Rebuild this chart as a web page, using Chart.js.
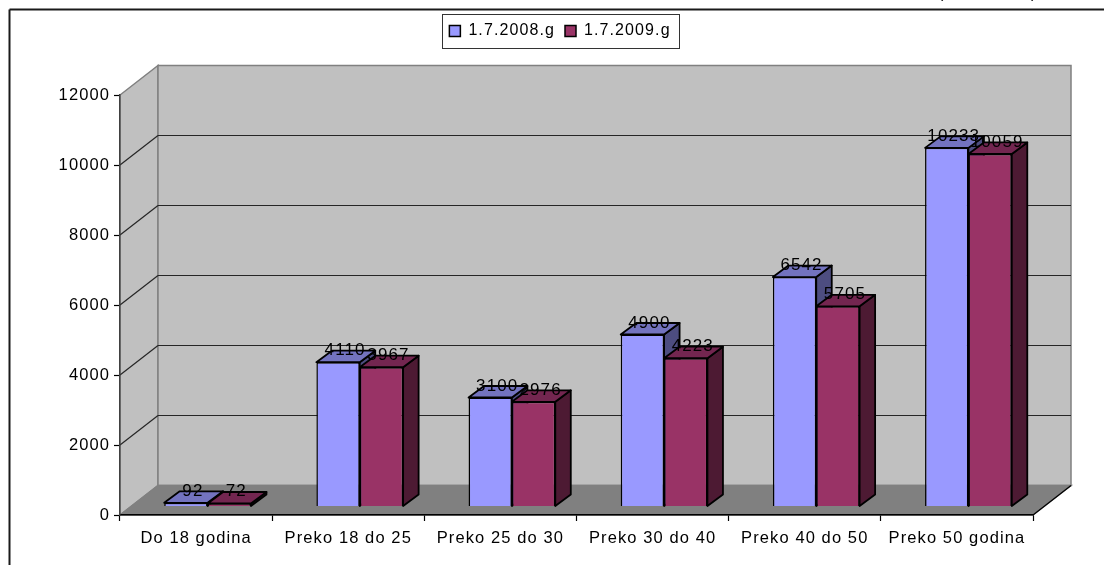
<!DOCTYPE html>
<html>
<head>
<meta charset="utf-8">
<style>
html, body { margin: 0; padding: 0; background: #fff; overflow: hidden; }
canvas { display: block; }
</style>
<script src="https://cdn.jsdelivr.net/npm/chart.js@4"></script>
</head>
<body>
<canvas id="chart" width="1104" height="565"></canvas>
<script>
const categories = ['Do 18 godina', 'Preko 18 do 25', 'Preko 25 do 30', 'Preko 30 do 40', 'Preko 40 do 50', 'Preko 50 godina'];
const values2008 = [92, 4110, 3100, 4900, 6542, 10233];
const values2009 = [72, 3967, 2976, 4223, 5705, 10059];
const yTicks = [0, 2000, 4000, 6000, 8000, 10000, 12000];

// fake 3d: depth of the box and of the bars, in pixels
const wallX = 38, wallY = 29.5;
const barDepthX = 15.5, barDepthY = 11.5;
const barShiftX = 11.5;
const letterSpacing = '1.1px';

const faces = [
    { top: '#7373BF', side: '#4D4D80' },
    { top: '#732650', side: '#4D1A33' }
];

function line(ctx, x1, y1, x2, y2) {
    ctx.beginPath();
    ctx.moveTo(x1, y1);
    ctx.lineTo(x2, y2);
    ctx.stroke();
}

function poly(ctx, pts, fill) {
    ctx.beginPath();
    pts.forEach((p, i) => i ? ctx.lineTo(p[0], p[1]) : ctx.moveTo(p[0], p[1]));
    ctx.closePath();
    ctx.fillStyle = fill;
    ctx.fill();
    ctx.stroke();
}

const box3d = {
    id: 'box3d',
    beforeLayout(chart) {
        chart.ctx.letterSpacing = letterSpacing;
    },
    afterLayout(chart) {
        // legend sits higher than the layout puts it and right of the plot centre
        const legend = chart.legend;
        const h = legend.bottom - legend.top;
        legend.top = 13;
        legend.bottom = 13 + h;
        legend.left += 43.5;
        legend.right += 43.5;
    },
    beforeDraw(chart) {
        const ctx = chart.ctx;
        const { left, right } = chart.chartArea;
        const y = chart.scales.y;
        const y0 = y.getPixelForValue(0), yMax = y.getPixelForValue(12000);

        ctx.save();
        // outer frame, runs off the page on the right and bottom
        ctx.strokeStyle = '#1a1a1a';
        ctx.lineWidth = 2;
        line(ctx, 9.5, 565, 9.5, 9.5);
        line(ctx, 9.5, 9.5, 1104, 9.5);

        // text cut off by the top of the picture
        ctx.fillStyle = '#000';
        ctx.font = '16px "Liberation Sans"';
        ctx.textBaseline = 'alphabetic';
        ctx.fillText('(', 938, -2);
        ctx.fillText(')', 1031, -2);

        ctx.strokeStyle = '#808080';
        ctx.lineWidth = 1.5;
        poly(ctx, [[left, y0], [left, yMax], [left + wallX, yMax - wallY], [left + wallX, y0 - wallY]], '#C0C0C0');
        poly(ctx, [[left + wallX, yMax - wallY], [right + wallX, yMax - wallY], [right + wallX, y0 - wallY], [left + wallX, y0 - wallY]], '#C0C0C0');
        poly(ctx, [[left, y0], [left + wallX, y0 - wallY], [right + wallX, y0 - wallY], [right, y0]], '#808080');

        ctx.strokeStyle = '#262626';
        ctx.lineWidth = 1.2;
        yTicks.slice(1, -1).forEach(v => {
            const py = y.getPixelForValue(v);
            line(ctx, left, py, left + wallX, py - wallY);
            line(ctx, left + wallX, py - wallY, right + wallX, py - wallY);
        });
        ctx.strokeStyle = '#000';
        line(ctx, right, y0, right + wallX, y0 - wallY);
        ctx.restore();
    },
    beforeDatasetsDraw(chart) {
        const ctx = chart.ctx;
        ctx.save();
        ctx.translate(barShiftX, 0);
        ctx.strokeStyle = '#000';
        ctx.lineWidth = 1.8;
        ctx.lineJoin = 'round';
        chart.data.datasets.forEach((ds, i) => {
            chart.getDatasetMeta(i).data.forEach(bar => {
                const l = bar.x - bar.width / 2, r = bar.x + bar.width / 2;
                poly(ctx, [[r, bar.y], [r + barDepthX, bar.y - barDepthY], [r + barDepthX, bar.base - barDepthY], [r, bar.base]], faces[i].side);
                poly(ctx, [[l, bar.y], [l + barDepthX, bar.y - barDepthY], [r + barDepthX, bar.y - barDepthY], [r, bar.y]], faces[i].top);
            });
        });
    },
    afterDatasetsDraw(chart) {
        const ctx = chart.ctx;
        ctx.restore();
        ctx.save();
        ctx.fillStyle = '#000';
        ctx.font = '17px "Liberation Sans"';
        ctx.textAlign = 'center';
        ctx.textBaseline = 'alphabetic';
        chart.data.datasets.forEach((ds, i) => {
            chart.getDatasetMeta(i).data.forEach((bar, j) => {
                ctx.fillText(ds.data[j], bar.x + barShiftX + 7, bar.y - 7);
            });
        });
        ctx.restore();
    },
    afterDraw(chart) {
        const ctx = chart.ctx;
        ctx.save();
        ctx.strokeStyle = '#333';
        ctx.lineWidth = 1;
        ctx.strokeRect(442.5, 14.5, 237, 34);
        ctx.restore();
    }
};

Chart.defaults.font.family = '"Liberation Sans"';
Chart.defaults.font.size = 16.5;
Chart.defaults.color = '#000';

new Chart(document.getElementById('chart'), {
    type: 'bar',
    data: {
        labels: categories,
        datasets: [
            { label: '1.7.2008.g', data: values2008, backgroundColor: '#9999FF', borderColor: '#000', borderWidth: 1.5, yAxisID: 'bars', clip: false },
            { label: '1.7.2009.g', data: values2009, backgroundColor: '#993366', borderColor: '#000', borderWidth: 1.5, yAxisID: 'bars', clip: false }
        ]
    },
    plugins: [box3d],
    options: {
        responsive: false,
        animation: false,
        layout: { padding: { top: 59, right: 71, bottom: 0, left: 0 } },
        plugins: {
            legend: {
                position: 'top',
                labels: { boxWidth: 11, boxHeight: 11, padding: 10, color: '#000', font: { size: 16 } }
            },
            tooltip: { enabled: false }
        },
        datasets: { bar: { categoryPercentage: 0.57, barPercentage: 1 } },
        scales: {
            x: {
                afterFit(scale) { scale.height = 50; },
                border: { color: '#000', width: 1.5 },
                grid: { drawOnChartArea: false, tickLength: 6, tickColor: '#000', tickWidth: 1.2 },
                ticks: { maxRotation: 0, autoSkip: false, padding: 8 }
            },
            y: {
                min: 0,
                max: 12000,
                afterFit(scale) { scale.width = 120; },
                afterBuildTicks(scale) { scale.ticks = yTicks.map(v => ({ value: v })); },
                border: { color: '#404040', width: 1.5 },
                grid: { drawOnChartArea: false, tickLength: 6, tickColor: '#000', tickWidth: 1.2 },
                ticks: { padding: 4, callback: v => String(v) }
            },
            // same scale as y, dropped so the bars stand in the middle of the floor
            bars: { display: false, min: -257, max: 11743 }
        }
    }
});
</script>
</body>
</html>
